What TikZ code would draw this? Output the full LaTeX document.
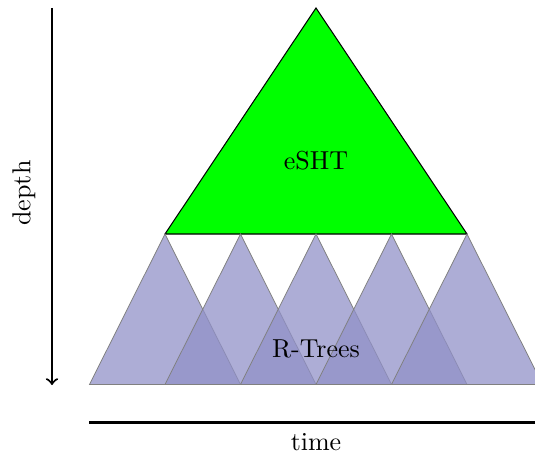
\documentclass[tikz,border=0pt]{standalone}
\usepackage{tikz}
\definecolor{rtree}{RGB}{145,145,200}
\definecolor{eshtgreen}{RGB}{0,255,0}
\tikzset{
  rtri/.style={fill=rtree, fill opacity=0.75, draw=gray, line width=0.3pt},
  etri/.style={fill=eshtgreen, draw=black, line width=0.4pt},
  axis/.style={line width=0.8pt},
  lbl/.style={font=\fontsize{10}{12}\selectfont, inner sep=0pt}
}
\begin{document}
\begin{tikzpicture}[x=0.385pt, y=-0.385pt]
\clip (0,0) rectangle (535,456);
% eSHT triangle
\draw[etri] (316,8) -- (467,234) -- (165,234) -- cycle;
% R-Trees
\foreach \ax in {165,240.5,316,391.5,467} {
  \draw[rtri] (\ax,234) -- (\ax+75.5,384.5) -- (\ax-75.5,384.5) -- cycle;
}
\node[lbl] (esht) at (316,161) {eSHT};
\node[lbl] (rtrees) at (316,349) {R-Trees};
% depth axis
\coordinate (dtop) at (52,8);
\coordinate (dbot) at (52,385);
\draw[axis,->] (dtop) -- (dbot);
\node[lbl, rotate=90] (depth) at (24,193) {depth};
% time axis
\coordinate (tl) at (89,422.5);
\coordinate (tr) at (540,422.5);
\draw[axis] (tl) -- (tr);
\node[lbl] (time) at (316,442) {time};
\end{tikzpicture}
\end{document}
